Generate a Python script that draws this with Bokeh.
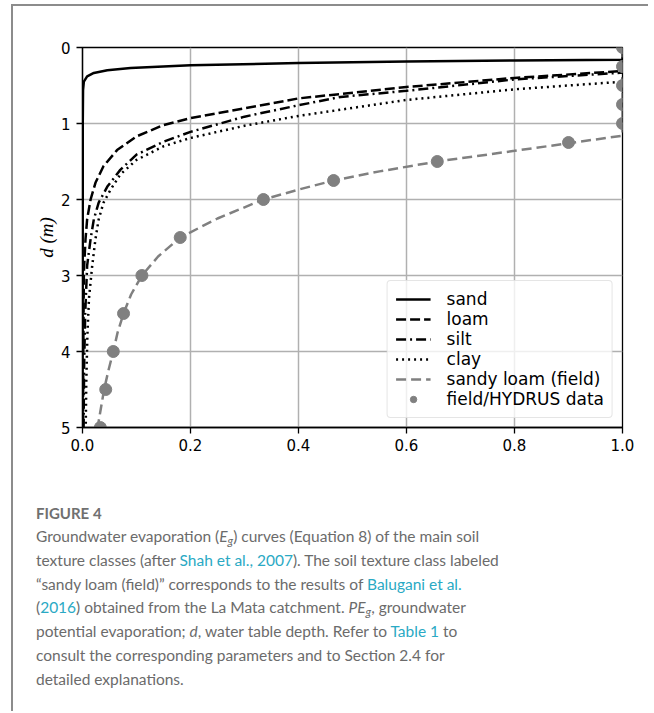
from bokeh.plotting import figure
from bokeh.models import Range1d, FixedTicker, Legend, LegendItem, Label, Div
from bokeh.layouts import column, row
from bokeh.embed import file_html
from bokeh.resources import INLINE

# ---------------- data ----------------
sand_v = [1.0, 1.0, 0.8, 0.6, 0.4, 0.2, 0.089, 0.046, 0.021, 0.0086, 0.0025, 0.001, 0.0005, 0.0002]
sand_d = [0.0, 0.16, 0.17, 0.185, 0.205, 0.235, 0.27, 0.30, 0.335, 0.38, 0.45, 0.56, 1.0, 5.0]

loam_v = [1.0, 1.0, 0.8, 0.6, 0.4, 0.3, 0.2, 0.15, 0.1, 0.064, 0.039, 0.024, 0.015, 0.0086, 0.0056, 0.0025, 0.0015, 0.001]
loam_d = [0.0, 0.31, 0.40, 0.52, 0.67, 0.80, 0.93, 1.02, 1.17, 1.35, 1.56, 1.78, 2.0, 2.26, 2.52, 2.96, 4.0, 5.0]

silt_v = [1.0, 1.0, 0.8, 0.6, 0.478, 0.4, 0.3, 0.2, 0.15, 0.1, 0.07, 0.046, 0.03, 0.021, 0.015, 0.0086, 0.005, 0.003, 0.002]
silt_d = [0.0, 0.33, 0.42, 0.57, 0.65, 0.76, 0.91, 1.11, 1.24, 1.41, 1.61, 1.83, 2.04, 2.26, 2.52, 2.87, 3.5, 4.2, 5.0]

clay_v = [1.0, 1.0, 0.8, 0.6, 0.4, 0.3, 0.2, 0.15, 0.1, 0.07, 0.052, 0.039, 0.03, 0.024, 0.018, 0.012, 0.009, 0.007, 0.006]
clay_d = [0.0, 0.45, 0.55, 0.69, 0.90, 1.03, 1.19, 1.30, 1.48, 1.67, 1.87, 2.04, 2.26, 2.52, 2.87, 3.3, 3.8, 4.4, 5.0]

field_v = [1.0, 1.0, 0.90, 0.80, 0.657, 0.55, 0.465, 0.40, 0.335, 0.25, 0.181, 0.14, 0.11, 0.09, 0.076, 0.065, 0.057, 0.048, 0.040, 0.034, 0.028]
field_d = [0.0, 1.16, 1.26, 1.36, 1.5, 1.63, 1.75, 1.87, 2.0, 2.25, 2.5, 2.75, 3.0, 3.25, 3.5, 3.75, 4.0, 4.25, 4.5, 4.75, 5.0]

hydrus_v = [1.0, 1.0, 1.0, 1.0, 1.0, 0.90, 0.657, 0.465, 0.335, 0.181, 0.11, 0.076, 0.057, 0.043, 0.033]
hydrus_d = [0.0, 0.25, 0.5, 0.75, 1.0, 1.25, 1.5, 1.75, 2.0, 2.5, 3.0, 3.5, 4.0, 4.5, 5.0]

x_ticks = [0.0, 0.2, 0.4, 0.6, 0.8, 1.0]
x_tick_labels = ["0.0", "0.2", "0.4", "0.6", "0.8", "1.0"]
y_ticks = [0, 1, 2, 3, 4, 5]
y_tick_labels = ["0", "1", "2", "3", "4", "5"]

series_labels = ["sand", "loam", "silt", "clay", "sandy loam (field)", "field/HYDRUS data"]

GRAY = "#808080"
CARD = "#8c8c8c"

# ---------------- figure ----------------
p = figure(width=635, height=480,
           x_range=Range1d(0, 1), y_range=Range1d(5, 0),
           output_backend="svg", toolbar_location=None,
           min_border_left=69, min_border_right=26,
           min_border_top=41, min_border_bottom=59)

p.background_fill_color = "white"
p.border_fill_color = "white"
p.outline_line_color = "black"
p.outline_line_width = 1.3
p.outline_line_alpha = 1.0

for ax in (p.xaxis, p.yaxis):
    ax.axis_line_color = "black"
    ax.axis_line_width = 1.3
    ax.major_tick_line_color = "black"
    ax.major_tick_line_width = 1.3
    ax.major_tick_out = 6
    ax.major_tick_in = 0
    ax.minor_tick_line_color = None
    ax.major_label_text_font = "DejaVu Sans"
    ax.major_label_text_font_size = "15px"
    ax.major_label_text_color = "black"

p.xaxis.ticker = FixedTicker(ticks=x_ticks)
p.xaxis.major_label_overrides = dict(zip(x_ticks, x_tick_labels))
p.xaxis.major_label_standoff = 5
p.yaxis.ticker = FixedTicker(ticks=y_ticks)
p.yaxis.major_label_overrides = dict(zip(y_ticks, y_tick_labels))
p.yaxis.major_label_standoff = 6

p.yaxis.axis_label = "d (m)"
p.yaxis.axis_label_text_font = "Liberation Serif"
p.yaxis.axis_label_text_font_style = "italic"
p.yaxis.axis_label_text_font_size = "19px"
p.yaxis.axis_label_text_color = "black"
p.yaxis.axis_label_standoff = 1

p.grid.grid_line_color = "#b0b0b0"
p.grid.grid_line_width = 1.5

r_sand = p.line(sand_v, sand_d, line_color="black", line_width=2.5)
r_loam = p.line(loam_v, loam_d, line_color="black", line_width=2.5, line_dash="10 4")
r_silt = p.line(silt_v, silt_d, line_color="black", line_width=2.5, line_dash="10 4 2 4")
r_clay = p.line(clay_v, clay_d, line_color="black", line_width=2.5, line_dash="2 4")
r_field = p.line(field_v, field_d, line_color=GRAY, line_width=2.5, line_dash="10 5")
r_pts = p.scatter(hydrus_v, hydrus_d, size=12, marker="circle",
                  fill_color=GRAY, line_color=GRAY)

legend = Legend(items=[LegendItem(label=lab, renderers=[r])
                       for lab, r in zip(series_labels,
                                         [r_sand, r_loam, r_silt, r_clay, r_field, r_pts])],
                location="bottom_right")
legend.margin = 9
legend.padding = 8
legend.spacing = 0
legend.glyph_width = 35
legend.glyph_height = 16
legend.label_height = 16
legend.label_standoff = 16
legend.label_text_font = "DejaVu Sans"
legend.label_text_font_size = "17px"
legend.label_text_color = "black"
legend.border_line_color = "#cccccc"
legend.border_line_width = 1
legend.background_fill_color = "white"
legend.background_fill_alpha = 0.8
try:
    legend.border_radius = 4
except Exception:
    pass
p.add_layout(legend)

# x axis label  E_g / PE_g  (serif italic with subscripts)
xl_font = "Liberation Serif"
parts = [("E", 0, 0, "19px"), ("g", 12, -5, "13px"), ("/PE", 18, 0, "19px"), ("g", 46, -5, "13px")]
for txt, dx, dy, fs in parts:
    p.add_layout(Label(x=0.452, y=5, x_offset=dx, y_offset=-45 + dy, text=txt,
                       text_font=xl_font, text_font_style="italic",
                       text_font_size=fs, text_color="black",
                       text_baseline="alphabetic", text_align="left"))

# ---------------- caption ----------------
LINK = "#2aa9c4"
sub = '<span style="font-size:0.75em;vertical-align:-0.3em;line-height:0">g</span>'
caption_html = (
    '<div style="margin-left:11px;border-left:2px solid ' + CARD + ';padding:17px 0 0 23px;'
    'height:225px;box-sizing:border-box;font-family:Lato;color:#6b6b6b;white-space:nowrap;">'
    '<div style="font-weight:bold;font-size:15px;line-height:20px;color:#707070;">FIGURE 4</div>'
    '<div style="font-size:15.5px;line-height:23.8px;margin-top:2px;">'
    'Groundwater evaporation (<i>E</i><i>' + sub + '</i>) curves (Equation 8) of the main soil<br>'
    'texture classes (after <span style="color:' + LINK + '">Shah et al., 2007</span>). The soil texture class labeled<br>'
    '\u201csandy loam (field)\u201d corresponds to the results of <span style="color:' + LINK + '">Balugani et al.</span><br>'
    '(<span style="color:' + LINK + '">2016</span>) obtained from the La Mata catchment. <i>PE' + sub + '</i>, groundwater<br>'
    'potential evaporation; <i>d</i>, water table depth. Refer to <span style="color:' + LINK + '">Table 1</span> to<br>'
    'consult the corresponding parameters and to Section 2.4 for<br>'
    'detailed explanations.'
    '</div></div>'
)
cap = Div(text=caption_html, width=648, height=225, margin=0)

# grey rules of the figure card
top_rule = Div(text="", width=637, height=2, margin=(4, 0, 0, 11),
               styles={"background-color": CARD})
left_rule = Div(text='<div style="padding-left:11px;"><div style="width:2px;height:480px;background:'
                + CARD + ';"></div></div>', width=13, height=480, margin=0)

layout = column(top_rule, row(left_rule, p), cap)

open("out.html", "w").write(file_html(layout, INLINE))
